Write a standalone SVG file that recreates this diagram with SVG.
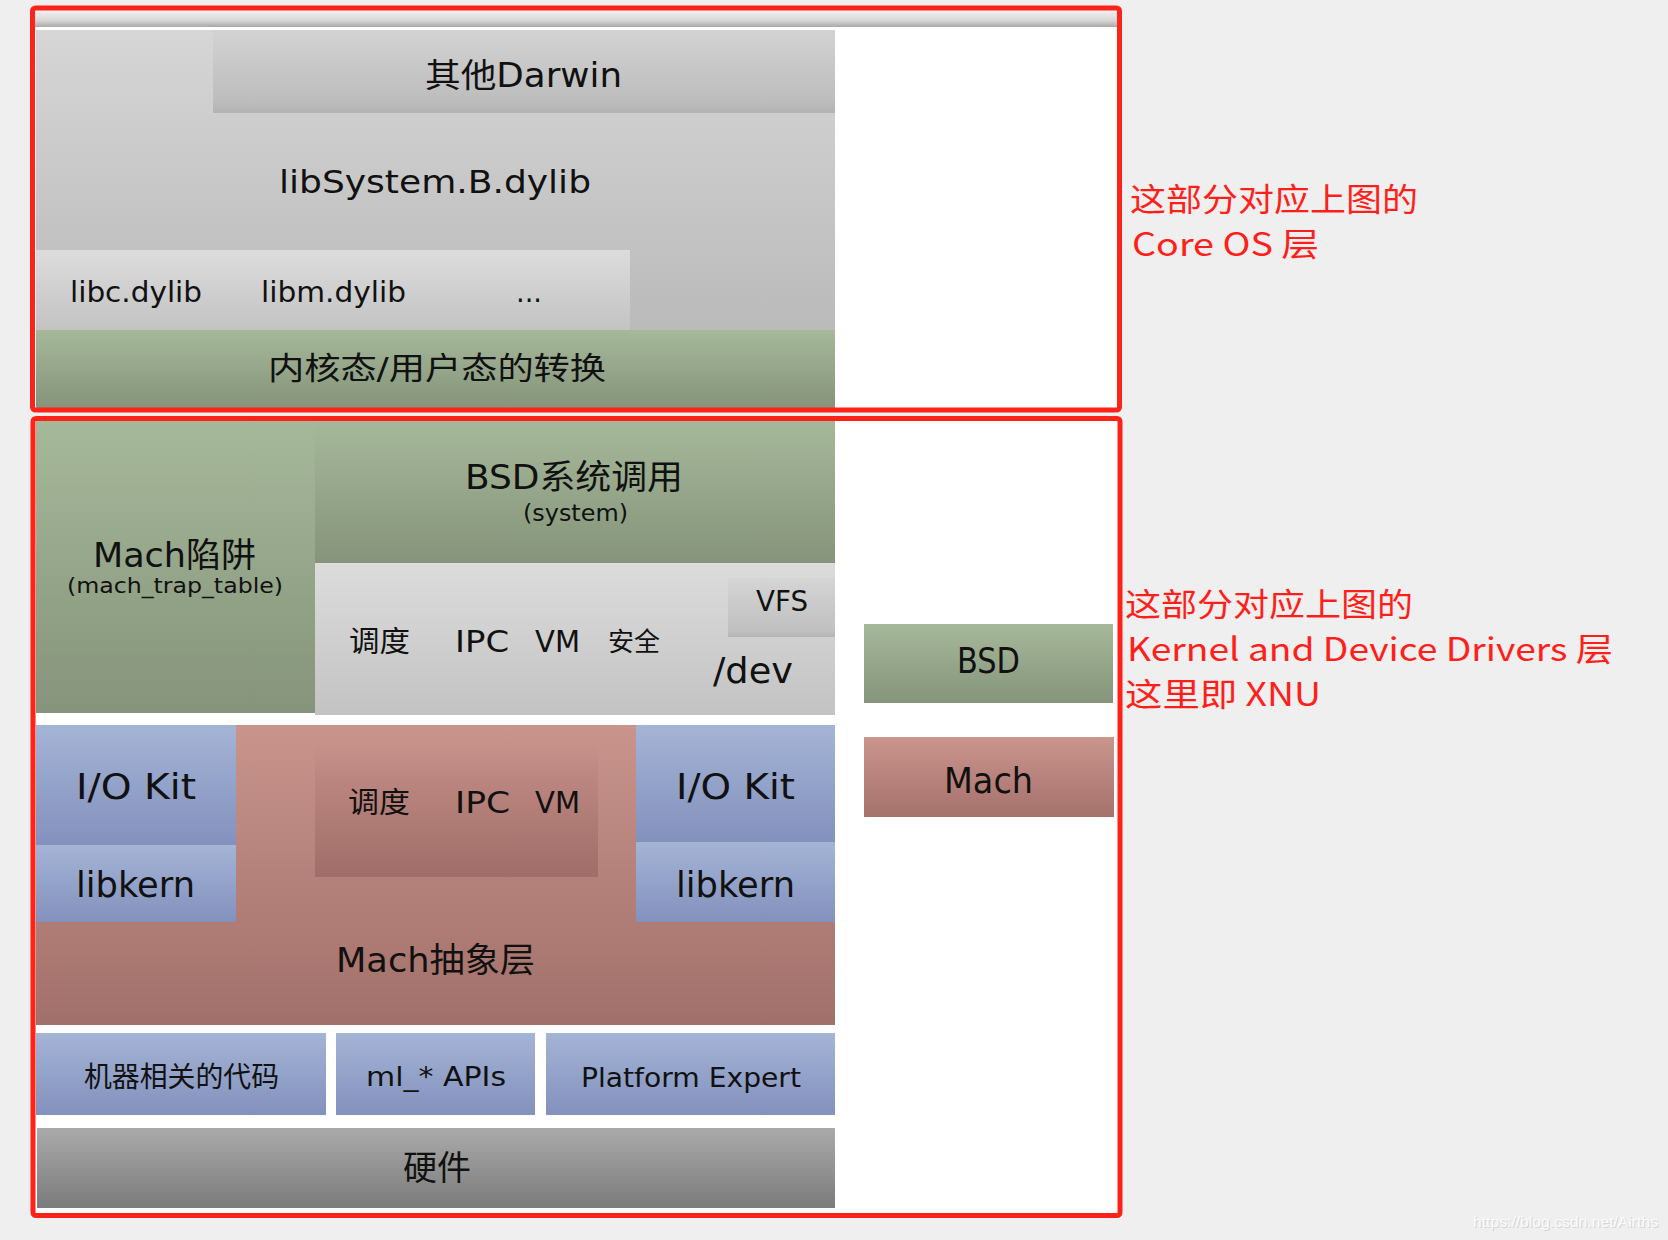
<svg xmlns="http://www.w3.org/2000/svg" width="1668" height="1240" viewBox="0 0 1668 1240">
<defs>
<linearGradient id="gStrip" x1="0" y1="0" x2="0" y2="1"><stop offset="0" stop-color="#f2f2f2"/><stop offset="0.6" stop-color="#d8d8d8"/><stop offset="1" stop-color="#a8a8a8"/></linearGradient>
<linearGradient id="gGrayBig" x1="0" y1="0" x2="0" y2="1"><stop offset="0" stop-color="#d6d6d6"/><stop offset="1" stop-color="#bababa"/></linearGradient>
<linearGradient id="gDarwin" x1="0" y1="0" x2="0" y2="1"><stop offset="0" stop-color="#d3d3d3"/><stop offset="0.85" stop-color="#bdbdbd"/><stop offset="1" stop-color="#b3b3b3"/></linearGradient>
<linearGradient id="gLight" x1="0" y1="0" x2="0" y2="1"><stop offset="0" stop-color="#dcdcdc"/><stop offset="1" stop-color="#c3c3c3"/></linearGradient>
<linearGradient id="gVfs" x1="0" y1="0" x2="0" y2="1"><stop offset="0" stop-color="#d5d5d5"/><stop offset="0.9" stop-color="#c0c0c0"/><stop offset="1" stop-color="#b5b5b5"/></linearGradient>
<linearGradient id="gGreen" x1="0" y1="0" x2="0" y2="1"><stop offset="0" stop-color="#a6b89a"/><stop offset="1" stop-color="#85947a"/></linearGradient>
<linearGradient id="gBlue" x1="0" y1="0" x2="0" y2="1"><stop offset="0" stop-color="#a4b4d5"/><stop offset="1" stop-color="#8391bd"/></linearGradient>
<linearGradient id="gPink" x1="0" y1="0" x2="0" y2="1"><stop offset="0" stop-color="#c8948c"/><stop offset="1" stop-color="#a2706a"/></linearGradient>
<linearGradient id="gPinkInner" x1="0" y1="0" x2="0" y2="1"><stop offset="0" stop-color="#c28e87" stop-opacity="0.2"/><stop offset="0.25" stop-color="#bb867f"/><stop offset="1" stop-color="#a06d68"/></linearGradient>
<linearGradient id="gHw" x1="0" y1="0" x2="0" y2="1"><stop offset="0" stop-color="#aaaaaa"/><stop offset="1" stop-color="#7b7b7b"/></linearGradient>
<linearGradient id="gPinkSide" x1="0" y1="0" x2="0" y2="1"><stop offset="0" stop-color="#c9958d"/><stop offset="1" stop-color="#a5716b"/></linearGradient>
</defs>
<style>
.t{font-family:"DejaVu Sans","Noto Sans CJK SC",sans-serif;fill:#111;}
.r{font-family:"Noto Sans CJK SC","Noto Sans",sans-serif;fill:#ff1f1a;font-size:32px;}
.frame{fill:none;stroke:#ff2218;stroke-width:5;}
.wm{font-family:"Liberation Sans",sans-serif;font-size:15px;}
</style>
<rect x="0" y="0" width="1668" height="1240" fill="#efefef"/>
<!-- white panels -->
<rect x="33" y="8" width="1087" height="402" fill="#ffffff"/>
<rect x="33" y="418" width="1087" height="797" fill="#ffffff"/>
<rect x="35" y="10" width="1082" height="17" fill="url(#gStrip)"/>

<g id="libsystem">
<rect x="36" y="30" width="799" height="300" fill="url(#gGrayBig)"/>
<text class="t" x="279" y="193" font-size="32" textLength="312" lengthAdjust="spacingAndGlyphs">libSystem.B.dylib</text>
</g>
<g id="other-darwin">
<rect x="213" y="30" width="622" height="83" fill="url(#gDarwin)"/>
<text class="t" x="425" y="87" font-size="33" textLength="197" lengthAdjust="spacingAndGlyphs">其他Darwin</text>
</g>
<g id="libc-row">
<rect x="36" y="250" width="594" height="80" fill="url(#gLight)"/>
<text class="t" x="70" y="302" font-size="29" textLength="132" lengthAdjust="spacingAndGlyphs">libc.dylib</text>
<text class="t" x="261" y="302" font-size="29" textLength="145" lengthAdjust="spacingAndGlyphs">libm.dylib</text>
<text class="t" x="516" y="302" font-size="29" textLength="26" lengthAdjust="spacingAndGlyphs">...</text>
</g>
<g id="kernel-user-switch">
<rect x="36" y="330" width="799" height="78" fill="url(#gGreen)"/>
<text class="t" x="268" y="379" font-size="31" textLength="338" lengthAdjust="spacingAndGlyphs">内核态/用户态的转换</text>
</g>

<g id="mach-trap">
<rect x="36" y="421" width="279" height="292" fill="url(#gGreen)"/>
<text class="t" x="93" y="567" font-size="34" textLength="163" lengthAdjust="spacingAndGlyphs">Mach陷阱</text>
<text class="t" x="67" y="593" font-size="22" textLength="216" lengthAdjust="spacingAndGlyphs">(mach_trap_table)</text>
</g>
<g id="bsd-syscall">
<rect x="315" y="421" width="520" height="142" fill="url(#gGreen)"/>
<text class="t" x="465" y="489" font-size="34" textLength="218" lengthAdjust="spacingAndGlyphs">BSD系统调用</text>
<text class="t" x="523" y="521" font-size="23" textLength="105" lengthAdjust="spacingAndGlyphs">(system)</text>
</g>
<g id="bsd-services">
<rect x="315" y="563" width="520" height="152" fill="url(#gLight)"/>
<text class="t" x="349" y="652" font-size="29" textLength="61" lengthAdjust="spacingAndGlyphs">调度</text>
<text class="t" x="455" y="652" font-size="30" textLength="54" lengthAdjust="spacingAndGlyphs">IPC</text>
<text class="t" x="535" y="652" font-size="30" textLength="45" lengthAdjust="spacingAndGlyphs">VM</text>
<text class="t" x="608" y="651" font-size="26" textLength="52" lengthAdjust="spacingAndGlyphs">安全</text>
<text class="t" x="713" y="683" font-size="35" textLength="80" lengthAdjust="spacingAndGlyphs">/dev</text>
</g>
<g id="vfs">
<rect x="728" y="578" width="107" height="59" fill="url(#gVfs)"/>
<text class="t" x="756" y="611" font-size="29" textLength="52" lengthAdjust="spacingAndGlyphs">VFS</text>
</g>

<g id="mach-abstraction">
<rect x="36" y="725" width="799" height="300" fill="url(#gPink)"/>
<text class="t" x="336" y="972" font-size="34" textLength="199" lengthAdjust="spacingAndGlyphs">Mach抽象层</text>
</g>
<g id="mach-core">
<rect x="315" y="745" width="283" height="132" fill="url(#gPinkInner)"/>
<text class="t" x="348" y="813" font-size="29" textLength="62" lengthAdjust="spacingAndGlyphs">调度</text>
<text class="t" x="455" y="813" font-size="30" textLength="55" lengthAdjust="spacingAndGlyphs">IPC</text>
<text class="t" x="535" y="813" font-size="30" textLength="45" lengthAdjust="spacingAndGlyphs">VM</text>
</g>
<g id="iokit-left">
<rect x="36" y="725" width="200" height="120" fill="url(#gBlue)"/>
<text class="t" x="76" y="799" font-size="36" textLength="120" lengthAdjust="spacingAndGlyphs">I/O Kit</text>
</g>
<g id="libkern-left">
<rect x="36" y="845" width="200" height="77" fill="url(#gBlue)"/>
<text class="t" x="76" y="897" font-size="35" textLength="119" lengthAdjust="spacingAndGlyphs">libkern</text>
</g>
<g id="iokit-right">
<rect x="636" y="725" width="199" height="117" fill="url(#gBlue)"/>
<text class="t" x="676" y="799" font-size="36" textLength="119" lengthAdjust="spacingAndGlyphs">I/O Kit</text>
</g>
<g id="libkern-right">
<rect x="636" y="842" width="199" height="80" fill="url(#gBlue)"/>
<text class="t" x="676" y="897" font-size="35" textLength="119" lengthAdjust="spacingAndGlyphs">libkern</text>
</g>

<g id="machine-code">
<rect x="36" y="1033" width="290" height="82" fill="url(#gBlue)"/>
<text class="t" x="84" y="1087" font-size="28" textLength="195" lengthAdjust="spacingAndGlyphs">机器相关的代码</text>
</g>
<g id="ml-apis">
<rect x="336" y="1033" width="199" height="82" fill="url(#gBlue)"/>
<text class="t" x="366" y="1086" font-size="26" textLength="140" lengthAdjust="spacingAndGlyphs">ml_* APIs</text>
</g>
<g id="platform-expert">
<rect x="546" y="1033" width="289" height="82" fill="url(#gBlue)"/>
<text class="t" x="581" y="1087" font-size="27" textLength="220" lengthAdjust="spacingAndGlyphs">Platform Expert</text>
</g>
<g id="hardware">
<rect x="37" y="1128" width="798" height="80" fill="url(#gHw)"/>
<text class="t" x="403" y="1180" font-size="34" textLength="68" lengthAdjust="spacingAndGlyphs">硬件</text>
</g>

<g id="legend-bsd">
<rect x="864" y="624" width="249" height="79" fill="url(#gGreen)"/>
<text class="t" x="957" y="673" font-size="35" textLength="63" lengthAdjust="spacingAndGlyphs">BSD</text>
</g>
<g id="legend-mach">
<rect x="864" y="737" width="250" height="80" fill="url(#gPinkSide)"/>
<text class="t" x="944" y="793" font-size="35" textLength="89" lengthAdjust="spacingAndGlyphs">Mach</text>
</g>

<g id="frame-coreos">
<rect class="frame" x="32.5" y="8" width="1087" height="402" rx="3"/>
<text class="r" x="1130" y="211" textLength="288" lengthAdjust="spacingAndGlyphs">这部分对应上图的</text>
<text class="r" x="1132" y="256" textLength="187" lengthAdjust="spacingAndGlyphs">Core OS 层</text>
</g>
<g id="frame-xnu">
<rect class="frame" x="33" y="418.5" width="1087" height="797" rx="3"/>
<text class="r" x="1125" y="616" textLength="288" lengthAdjust="spacingAndGlyphs">这部分对应上图的</text>
<text class="r" x="1127" y="661" textLength="486" lengthAdjust="spacingAndGlyphs">Kernel and Device Drivers 层</text>
<text class="r" x="1125" y="706" textLength="196" lengthAdjust="spacingAndGlyphs">这里即 XNU</text>
</g>
<g id="connectors"></g>
<g id="watermark">
<text class="wm" x="1474" y="1228" fill="#d4d4d4" textLength="185" lengthAdjust="spacingAndGlyphs">https://blog.csdn.net/Airths</text>
<text class="wm" x="1473" y="1227" fill="#fbfbfb" textLength="185" lengthAdjust="spacingAndGlyphs">https://blog.csdn.net/Airths</text>
</g>
</svg>
